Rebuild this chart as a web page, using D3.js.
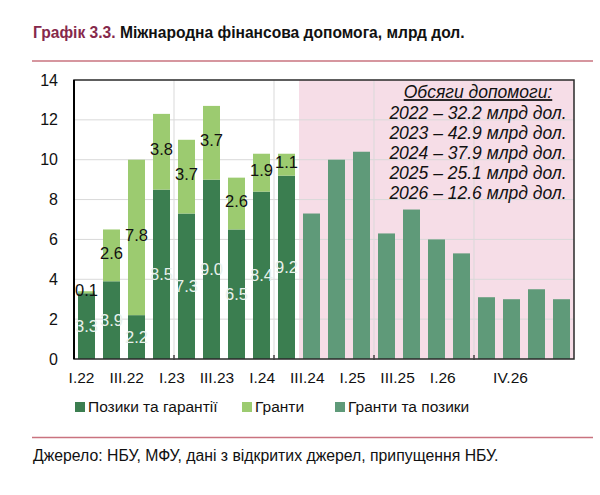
<!DOCTYPE html>
<html><head><meta charset="utf-8">
<script src="https://cdn.jsdelivr.net/npm/d3@7"></script>
<style>
html,body{margin:0;padding:0;background:#fff;}
svg{display:block;font-family:"Liberation Sans",Arial,sans-serif;}
</style></head>
<body>
<svg id="chart" width="600" height="495"></svg>
<script>
// ---- data ----
const quarters = ["I.22","II.22","III.22","IV.22","I.23","II.23","III.23","IV.23",
  "I.24","II.24","III.24","IV.24","I.25","II.25","III.25","IV.25","I.26","II.26","III.26","IV.26"];
const histQuarters = ["I.22","II.22","III.22","IV.22","I.23","II.23","III.23","IV.23","I.24"];
const loans  = [3.3, 3.9, 2.2, 8.5, 7.3, 9.0, 6.5, 8.4, 9.2];
const grants = [0.1, 2.6, 7.8, 3.8, 3.7, 3.7, 2.6, 1.9, 1.1];
const forecastQuarters = ["II.24","III.24","IV.24","I.25","II.25","III.25","IV.25","I.26","II.26","III.26","IV.26"];
const forecast = [7.3, 10.0, 10.4, 6.3, 7.5, 6.0, 5.3, 3.1, 3.0, 3.5, 3.0];
const tickLabels = ["I.22","III.22","I.23","III.23","I.24","III.24","I.25","III.25","I.26","IV.26"];
const yTicks = [0,2,4,6,8,10,12,14];
const yearStarts = ["I.23","I.24","I.25","I.26"];
const legendItems = ["Позики та гарантії","Гранти","Гранти та позики"];
const noteTitle = "Обсяги допомоги:";
const noteLines = ["2022 – 32.2 млрд дол.","2023 – 42.9 млрд дол.","2024 – 37.9 млрд дол.","2025 – 25.1 млрд дол.","2026 – 12.6 млрд дол."];

const C = {loan:"#3b7e50", grant:"#9ccb70", fc:"#5f9a79", pink:"#f6dde7", grid:"#d9d9d9", rule:"#c9737f", maroon:"#86294b"};

const svg = d3.select("#chart");
const L = 74, R = 574, T = 80, B = 359;

const x = d3.scaleBand().domain(quarters).range([L, R]).paddingInner(0.32).paddingOuter(0.16);
const xl = d3.scalePoint().domain(quarters).range([81, 510]);
const y = d3.scaleLinear().domain([0, 14]).range([B, T]);
const gap = x.step() - x.bandwidth();

// title + rules
const title = svg.append("text").attr("x", 33).attr("y", 38)
  .attr("font-size", 15.6).attr("font-weight", "bold");
title.append("tspan").attr("fill", C.maroon).text("Графік 3.3. ");
title.append("tspan").attr("fill", "#111").text("Міжнародна фінансова допомога, млрд дол.");
svg.append("line").attr("x1", 32).attr("x2", 593).attr("y1", 61).attr("y2", 61)
  .attr("stroke", C.rule).attr("stroke-width", 1.5);
svg.append("line").attr("x1", 32).attr("x2", 593).attr("y1", 437.5).attr("y2", 437.5)
  .attr("stroke", C.rule).attr("stroke-width", 1.5);

// pink forecast region
const pinkX = x("II.24") - gap / 2;
svg.append("rect").attr("x", pinkX).attr("y", T).attr("width", R - pinkX).attr("height", B - T)
  .attr("fill", C.pink);

// gridlines
svg.append("g").selectAll("line").data(yTicks.filter(d => d > 0 && d < 14)).join("line")
  .attr("x1", L).attr("x2", R).attr("y1", d => y(d)).attr("y2", d => y(d))
  .attr("stroke", C.grid).attr("stroke-width", 1);
svg.append("g").selectAll("line").data(yearStarts).join("line")
  .attr("x1", d => x(d) - gap / 2).attr("x2", d => x(d) - gap / 2)
  .attr("y1", T).attr("y2", B).attr("stroke", C.grid).attr("stroke-width", 1);

// bars
const hist = histQuarters.map((q, i) => ({q, loan: loans[i], grant: grants[i]}));
svg.append("g").selectAll("rect").data(hist).join("rect")
  .attr("x", d => x(d.q)).attr("width", x.bandwidth())
  .attr("y", d => y(d.loan)).attr("height", d => y(0) - y(d.loan)).attr("fill", C.loan);
svg.append("g").selectAll("rect").data(hist).join("rect")
  .attr("x", d => x(d.q)).attr("width", x.bandwidth())
  .attr("y", d => y(d.loan + d.grant)).attr("height", d => y(d.loan) - y(d.loan + d.grant)).attr("fill", C.grant);
const fc = forecastQuarters.map((q, i) => ({q, v: forecast[i]}));
svg.append("g").selectAll("rect").data(fc).join("rect")
  .attr("x", d => x(d.q)).attr("width", x.bandwidth())
  .attr("y", d => y(d.v)).attr("height", d => y(0) - y(d.v)).attr("fill", C.fc);

// value labels
svg.append("g").selectAll("text").data(hist).join("text")
  .attr("x", d => x(d.q) + x.bandwidth() / 2).attr("y", d => y(d.loan / 2))
  .attr("dy", "0.35em").attr("text-anchor", "middle").attr("font-size", 16.5)
  .attr("fill", "#e9f1ec").text(d => d.loan.toFixed(1));
svg.append("g").selectAll("text").data(hist).join("text")
  .attr("x", d => x(d.q) + x.bandwidth() / 2).attr("y", d => y(d.loan + d.grant / 2))
  .attr("dy", "0.2em").attr("text-anchor", "middle").attr("font-size", 16.5)
  .attr("fill", "#111").text(d => d.grant.toFixed(1));

// frame
svg.append("rect").attr("x", L).attr("y", T).attr("width", R - L).attr("height", B - T)
  .attr("fill", "none").attr("stroke", "#2a2a2a").attr("stroke-width", 1.5);
svg.append("line").attr("x1", L).attr("x2", L).attr("y1", T).attr("y2", B)
  .attr("stroke", "#000").attr("stroke-width", 2);
svg.append("g").selectAll("line").data(yearStarts).join("line")
  .attr("x1", d => x(d) - gap / 2).attr("x2", d => x(d) - gap / 2)
  .attr("y1", B - 4).attr("y2", B + 1).attr("stroke", "#444").attr("stroke-width", 1.5);

// y axis
const ya = svg.append("g").attr("transform", `translate(${L},0)`)
  .call(d3.axisLeft(y).tickValues(yTicks).tickSize(0).tickPadding(16).tickFormat(d3.format("d")));
ya.select(".domain").remove();
ya.selectAll("text").attr("font-size", 16).attr("fill", "#111").attr("font-family", "Liberation Sans, Arial, sans-serif");

// x axis labels
const xa = svg.append("g").attr("transform", `translate(0,${B})`)
  .call(d3.axisBottom(xl).tickValues(tickLabels).tickSize(0).tickPadding(13));
xa.select(".domain").remove();
xa.selectAll("text").attr("font-size", 15.5).attr("fill", "#111").attr("font-family", "Liberation Sans, Arial, sans-serif");

// legend
const legColors = [C.loan, C.grant, C.fc];
const legX = [75, 242, 335];
const lg = svg.append("g").selectAll("g").data(legendItems).join("g")
  .attr("transform", (d, i) => `translate(${legX[i]},407)`);
lg.append("rect").attr("x", 0).attr("y", -5).attr("width", 10).attr("height", 10)
  .attr("fill", (d, i) => legColors[i]);
lg.append("text").attr("x", 13).attr("y", 0).attr("dy", "0.35em").attr("font-size", 15.5)
  .attr("fill", "#111").text(d => d);

// annotation
const nx = 478;
svg.append("text").attr("x", nx).attr("y", 92).attr("dy", "0.35em").attr("text-anchor", "middle")
  .attr("font-size", 17.5).attr("font-style", "italic").attr("text-decoration", "underline")
  .attr("fill", "#111").text(noteTitle);
svg.append("g").selectAll("text").data(noteLines).join("text")
  .attr("x", nx).attr("y", (d, i) => 113 + i * 20).attr("dy", "0.35em").attr("text-anchor", "middle")
  .attr("font-size", 17.5).attr("font-style", "italic").attr("fill", "#111").text(d => d);

// source
svg.append("text").attr("x", 33).attr("y", 455).attr("dy", "0.35em").attr("font-size", 15.8)
  .attr("fill", "#111").text("Джерело: НБУ, МФУ, дані з відкритих джерел, припущення НБУ.");
</script>
</body></html>
